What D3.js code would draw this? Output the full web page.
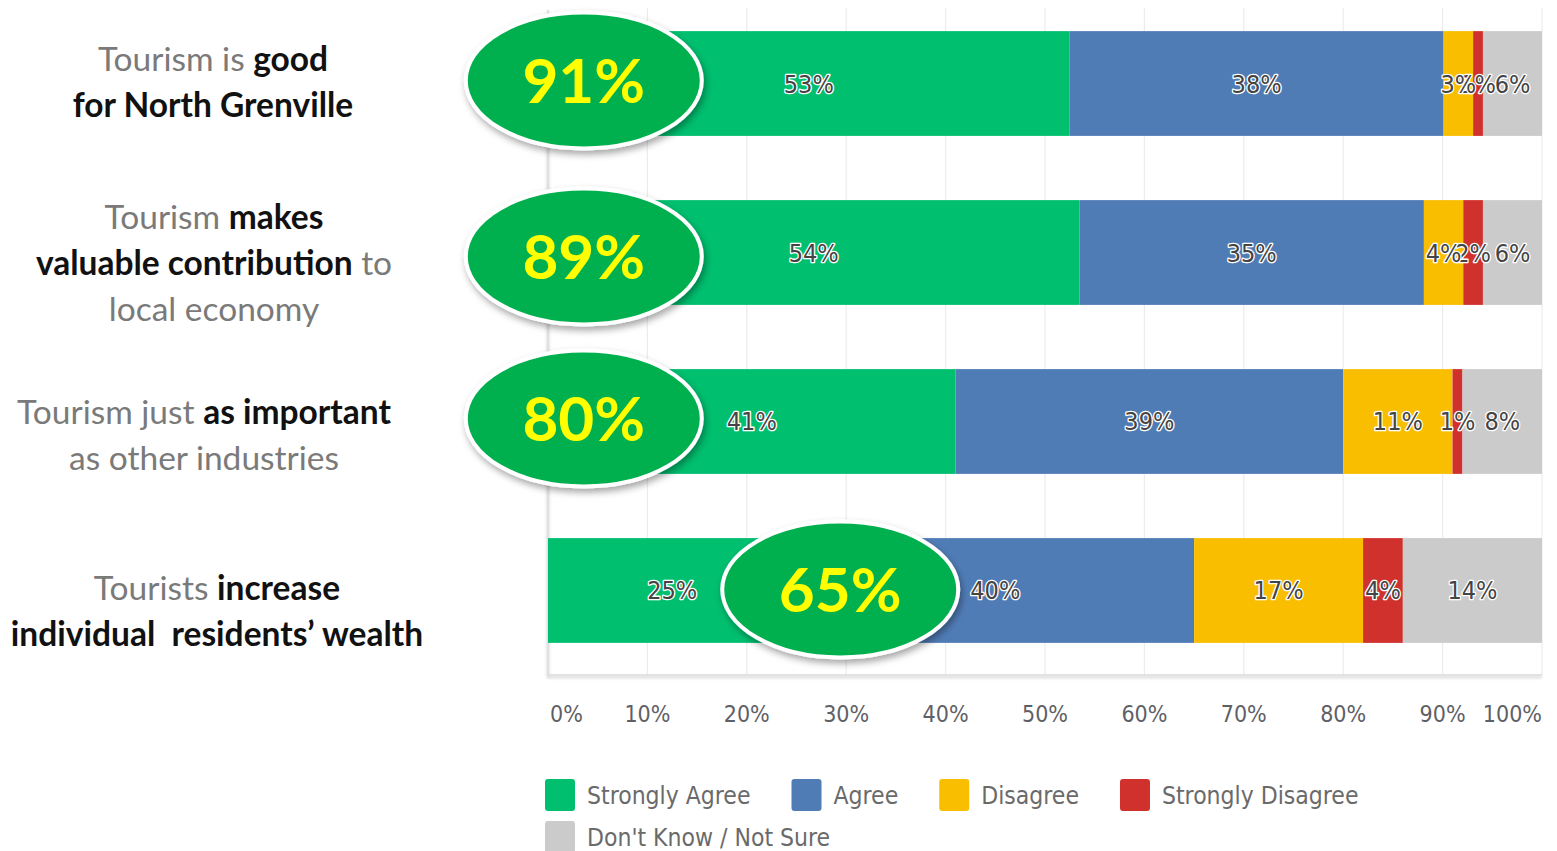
<!DOCTYPE html>
<html>
<head>
<meta charset="utf-8">
<script src="https://cdn.jsdelivr.net/npm/d3@7"></script>
<style>
  html, body { margin: 0; padding: 0; background: #ffffff; }
  svg { display: block; }
</style>
</head>
<body>
<svg id="chart" width="1557" height="851"></svg>
<script>
// Survey statements (one bar per statement)
const statements = ["good", "economy", "important", "wealth"];

// Response categories, in stacking order
const responses = ["Strongly Agree", "Agree", "Disagree", "Strongly Disagree", "Don't Know / Not Sure"];

// Share of respondents per statement (%), one array per response
const stronglyAgree    = [53, 54, 41, 25];
const agree            = [38, 35, 39, 40];
const disagree         = [3, 4, 11, 17];
const stronglyDisagree = [1, 2, 1, 4];
const dontKnow         = [6, 6, 8, 14];

// Combined agreement shown in the callouts
const totalAgree = [91, 89, 80, 65];

// Axis tick values (%)
const ticks = [0, 10, 20, 30, 40, 50, 60, 70, 80, 90, 100];

// Statement wording: lines of [text, emphasised]
const statementText = [
  [[["Tourism is ", false], ["good", true]],
   [["for North Grenville", true]]],
  [[["Tourism ", false], ["makes", true]],
   [["valuable contribution", true], [" to", false]],
   [["local economy", false]]],
  [[["Tourism just ", false], ["as important", true]],
   [["as other industries", false]]],
  [[["Tourists ", false], ["increase", true]],
   [["individual\u00a0 residents\u2019 wealth", true]]]
];

const colors = ["#00bf6f", "#507cb6", "#f9be00", "#d0312d", "#cbcbcb"];

// ---- layout ----
const svg = d3.select("#chart");
const plot = { left: 548, right: 1542, top: 8, bottom: 675 };

const x = d3.scaleLinear().domain([0, 100]).range([plot.left, plot.right]);
const y = d3.scaleBand().domain(statements)
  .range([10, 664]).paddingInner(0.38).paddingOuter(0.125);
const color = d3.scaleOrdinal().domain(responses).range(colors);

const rows = statements.map((s, i) => ({
  statement: s,
  "Strongly Agree": stronglyAgree[i],
  "Agree": agree[i],
  "Disagree": disagree[i],
  "Strongly Disagree": stronglyDisagree[i],
  "Don't Know / Not Sure": dontKnow[i]
}));

// rounded survey figures may add to 101, so normalise each bar to 100%
const stacked = d3.stack().keys(responses).offset(d3.stackOffsetExpand)(rows);

const defs = svg.append("defs");
const shadow = defs.append("filter").attr("id", "ellShadow")
  .attr("x", "-20%").attr("y", "-20%").attr("width", "140%").attr("height", "150%");
shadow.append("feDropShadow").attr("dx", 2).attr("dy", 4).attr("stdDeviation", 3.5)
  .attr("flood-color", "#000").attr("flood-opacity", 0.35);
const frameShadow = defs.append("filter").attr("id", "frameShadow")
  .attr("x", "-5%").attr("y", "-5%").attr("width", "110%").attr("height", "120%");
frameShadow.append("feDropShadow").attr("dx", 0).attr("dy", 2).attr("stdDeviation", 1.5)
  .attr("flood-color", "#000").attr("flood-opacity", 0.25);

// gridlines
svg.append("g").selectAll("line").data(ticks.slice(1)).join("line")
  .attr("x1", d => x(d)).attr("x2", d => x(d))
  .attr("y1", plot.top).attr("y2", plot.bottom)
  .attr("stroke", "#ececec").attr("stroke-width", 1.2);

// frame: left edge and base line
svg.append("path")
  .attr("d", `M${plot.left},${plot.top + 2}V${plot.bottom}H${plot.right}`)
  .attr("fill", "none").attr("stroke", "#dcdcdc").attr("stroke-width", 1.6)
  .attr("filter", "url(#frameShadow)");

// stacked bars
const barG = svg.append("g");
barG.selectAll("g").data(stacked).join("g")
  .attr("fill", d => color(d.key))
  .selectAll("rect").data(d => d).join("rect")
  .attr("x", d => x(d[0] * 100))
  .attr("width", d => x(d[1] * 100) - x(d[0] * 100))
  .attr("y", d => y(d.data.statement))
  .attr("height", y.bandwidth());

// segment value labels (later segments underneath earlier ones)
const labelFont = "'Liberation Sans Narrow', 'DejaVu Sans Condensed', 'Roboto', sans-serif";
const lblG = svg.append("g");
stacked.slice().reverse().forEach(layer => {
  layer.forEach(d => {
    lblG.append("text")
      .attr("x", x((d[0] + d[1]) / 2 * 100))
      .attr("y", y(d.data.statement) + y.bandwidth() / 2)
      .attr("dy", "0.36em")
      .attr("text-anchor", "middle")
      .attr("font-family", labelFont)
      .attr("font-stretch", "condensed")
      .attr("font-size", 25)
      .attr("fill", "#444444")
      .attr("stroke", "#ffffff").attr("stroke-width", 2.6)
      .attr("stroke-linejoin", "round")
      .attr("paint-order", "stroke")
      .text(d.data[layer.key] + "%");
  });
});

// callout ellipses with the combined agreement
const calloutAt = [3.6, 3.6, 3.6, 29.4];
const calloutDy = [-3, 4, -3, -1];
const callG = svg.append("g");
statements.forEach((s, i) => {
  const cx = x(calloutAt[i]);
  const cy = y(s) + y.bandwidth() / 2 + calloutDy[i];
  const g = callG.append("g");
  g.append("ellipse")
    .attr("cx", cx).attr("cy", cy).attr("rx", 118).attr("ry", 68)
    .attr("fill", "#00b04f").attr("stroke", "#ffffff").attr("stroke-width", 4)
    .attr("filter", "url(#ellShadow)");
  g.append("text")
    .attr("x", cx).attr("y", cy).attr("dy", "0.36em")
    .attr("text-anchor", "middle")
    .attr("font-family", "Lato, 'Open Sans', sans-serif")
    .attr("font-weight", 700)
    .attr("font-size", 62)
    .attr("fill", "#ffff00")
    .text(totalAgree[i] + "%");
});

// statement labels on the left
const labelDy = [-2, 10, 13, 20];
const labelX = [213, 214, 204, 217];
const lineH = 46;
const stG = svg.append("g");
statementText.forEach((lines, i) => {
  const cy = y(statements[i]) + y.bandwidth() / 2 + labelDy[i];
  const y0 = cy - (lines.length - 1) * lineH / 2;
  lines.forEach((runs, j) => {
    const t = stG.append("text")
      .attr("x", labelX[i]).attr("y", y0 + j * lineH).attr("dy", "0.36em")
      .attr("text-anchor", "middle")
      .attr("font-family", "Lato, sans-serif")
      .attr("font-size", 33.5)
      .style("white-space", "pre");
    runs.forEach(([txt, strong]) => {
      t.append("tspan")
        .attr("font-weight", strong ? 700 : 400)
        .attr("fill", strong ? "#111111" : "#7a7a7a")
        .text(txt);
    });
  });
});

// x axis tick labels
const axisG = svg.append("g").attr("transform", `translate(0,${plot.bottom + 39})`);
axisG.selectAll("text").data(ticks).join("text")
  .attr("x", (d, i) => i === 0 ? x(d) + 2 : x(d))
  .attr("dy", "0.36em")
  .attr("text-anchor", (d, i) => i === 0 ? "start" : (i === ticks.length - 1 ? "end" : "middle"))
  .attr("font-family", labelFont)
  .attr("font-stretch", "condensed")
  .attr("font-size", 23)
  .attr("fill", "#5f5f66")
  .text(d => d + "%");

// legend (flows left to right, wrapping inside the plot width)
const legG = svg.append("g");
let lx = 545, ly = 795;
const sw = 30, sh = 32, gapText = 12, gapItem = 41, rowH = 42;
responses.forEach(r => {
  const item = legG.append("g");
  const txt = item.append("text")
    .attr("font-family", labelFont)
    .attr("font-stretch", "condensed")
    .attr("font-size", 24.5)
    .attr("fill", "#6a6a6a")
    .attr("dy", "0.36em")
    .text(r);
  const tw = txt.node().getComputedTextLength();
  if (lx + sw + gapText + tw > plot.right && lx > 545) { lx = 545; ly += rowH; }
  item.insert("rect", "text")
    .attr("x", lx).attr("y", ly - sh / 2).attr("width", sw).attr("height", sh)
    .attr("rx", 3).attr("fill", color(r));
  txt.attr("x", lx + sw + gapText).attr("y", ly);
  lx += sw + gapText + tw + gapItem;
});
</script>
</body>
</html>
